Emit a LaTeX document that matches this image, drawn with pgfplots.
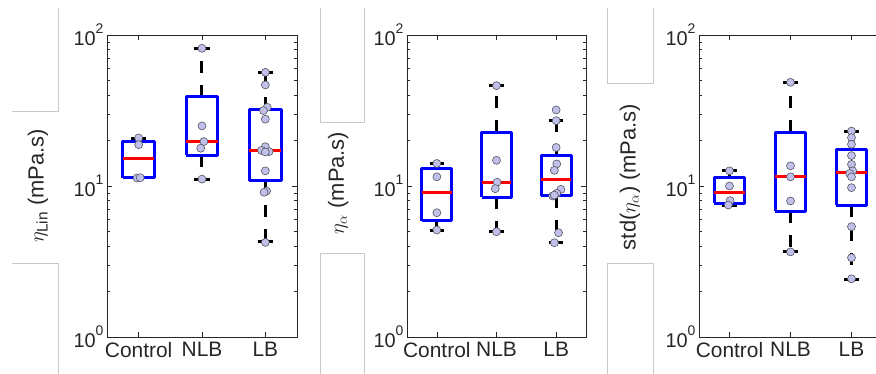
\documentclass[border=0pt]{standalone}
\usepackage{amsmath}
\usepackage{fontspec}
\setmainfont{Liberation Sans}
\usepackage{pgfplots}
\pgfplotsset{compat=1.18}
\definecolor{boxblue}{RGB}{0,0,255}
\definecolor{medred}{RGB}{255,0,0}
\definecolor{ptfill}{RGB}{192,192,235}
\definecolor{ptedge}{RGB}{85,85,95}
\definecolor{axgray}{RGB}{38,38,38}
\definecolor{artgray}{RGB}{200,200,200}
\newcommand{\pw}[1]{10\raisebox{0.62em}{\fontsize{14}{14}\selectfont #1}}

\pgfplotsset{
  every axis/.append style={
    scale only axis, anchor=south west,
    height=302bp,
    ymode=log, ymin=1, ymax=100,
    xmin=0.5, xmax=3.5,
    xtick={1,2,3}, xticklabels={Control,NLB,LB},
    ytick={1,10,100}, yticklabels={\pw{0},\pw{1},\pw{2}},
    tick align=inside, xtick pos=both, ytick pos=both,
    major tick length=5bp, minor tick length=3bp,
    axis line style={axgray, line width=0.6bp},
    tick style={axgray, line width=0.5bp},
    tick label style={text=axgray},
    xticklabel style={font=\fontsize{21}{21}\selectfont, yshift=-2bp},
    yticklabel style={font=\fontsize{20}{20}\selectfont},
    ylabel style={font=\fontsize{22}{22}\selectfont, text=axgray, anchor=center},
  },
}

% one box: #1 position, #2 lower whisker, #3 lower quartile, #4 median, #5 upper quartile, #6 upper whisker
\newcommand{\bx}[6]{%
  \pgfmathsetmacro\bL{#1-0.25}\pgfmathsetmacro\bR{#1+0.25}%
  \pgfmathsetmacro\cL{#1-0.12}\pgfmathsetmacro\cR{#1+0.12}%
  \addplot[black, line width=3bp, dash pattern=on 12bp off 12bp] coordinates {(#1,#3) (#1,#2)};
  \addplot[black, line width=3bp, dash pattern=on 12bp off 12bp] coordinates {(#1,#5) (#1,#6)};
  \addplot[black, line width=3bp] coordinates {(\cL,#2) (\cR,#2)};
  \addplot[black, line width=3bp] coordinates {(\cL,#6) (\cR,#6)};
  \addplot[boxblue, line width=3bp, line join=round] coordinates {(\bL,#3) (\bR,#3) (\bR,#5) (\bL,#5) (\bL,#3)};
  \addplot[medred, line width=3bp] coordinates {(\bL,#4) (\bR,#4)};
}

\begin{document}
\begin{tikzpicture}
\useasboundingbox (0,0) rectangle (876bp,374bp);

% ---------- Panel 1 ----------
\begin{axis}[at={(107bp,37bp)}, width=190bp,
  ylabel={$\eta_{\text{Lin}}$ (mPa.s)},
  ylabel style={at={(axis description cs:-0.363,0.5)}}]
\bx{1}{11.3}{11.35}{15.3}{19.7}{20.7}
\bx{2}{11.1}{16.0}{19.6}{39.0}{81.6}
\bx{3}{4.28}{10.8}{17.3}{32.2}{56.6}
\addplot[only marks, mark=*, mark size=4bp, mark options={fill=ptfill, draw=ptedge, line width=0.6bp}]
  coordinates {(1.0,20.8) (1.0,18.8) (0.975,11.3) (1.025,11.35)};
\addplot[only marks, mark=*, mark size=4bp, mark options={fill=ptfill, draw=ptedge, line width=0.6bp}]
  coordinates {(2.0,81.6) (2.0,25.0) (2.03,19.7) (1.98,17.8) (2.0,11.1)};
\addplot[only marks, mark=*, mark size=4bp, mark options={fill=ptfill, draw=ptedge, line width=0.6bp}]
  coordinates {(3.0,56.6) (3.0,46.7) (3.03,33.2) (2.97,31.6) (3.0,27.7)
  (3.0,18.2) (2.94,17.2) (3.06,16.9) (3.0,16.8) (3.0,12.6) (3.02,9.26) (2.98,9.09) (3.0,4.23)};
\end{axis}

% ---------- Panel 2 ----------
\begin{axis}[at={(407bp,37bp)}, width=179bp,
  ylabel={$\eta_{\alpha}$ (mPa.s)},
  ylabel style={at={(axis description cs:-0.385,0.51)}}]
\bx{1}{5.11}{5.87}{9.08}{12.97}{14.1}
\bx{2}{4.98}{8.45}{10.6}{22.7}{46.2}
\bx{3}{4.21}{8.62}{11.1}{15.9}{27.1}
\addplot[only marks, mark=*, mark size=4bp, mark options={fill=ptfill, draw=ptedge, line width=0.6bp}]
  coordinates {(1.0,14.1) (1.0,11.5) (1.0,6.65) (1.0,5.11)};
\addplot[only marks, mark=*, mark size=4bp, mark options={fill=ptfill, draw=ptedge, line width=0.6bp}]
  coordinates {(2.0,46.2) (2.0,14.8) (2.01,10.6) (1.98,9.6) (2.0,4.98)};
\addplot[only marks, mark=*, mark size=4bp, mark options={fill=ptfill, draw=ptedge, line width=0.6bp}]
  coordinates {(3.0,31.9) (3.0,27.1) (3.0,18.0) (3.01,14.0) (2.97,12.7)
  (3.08,9.5) (3.01,8.95) (2.94,8.59) (2.97,8.7) (3.04,4.9) (2.97,4.21)};
\end{axis}

% ---------- Panel 3 ----------
\begin{axis}[at={(699bp,37bp)}, width=183bp,
  ylabel={std($\eta_{\alpha}$) (mPa.s)},
  ylabel style={at={(axis description cs:-0.377,0.53)}}]
\bx{1}{7.48}{7.68}{9.03}{11.4}{12.6}
\bx{2}{3.66}{6.83}{11.5}{22.7}{48.6}
\bx{3}{2.42}{7.48}{12.2}{17.5}{23.1}
\addplot[only marks, mark=*, mark size=4bp, mark options={fill=ptfill, draw=ptedge, line width=0.6bp}]
  coordinates {(1.0,12.6) (1.0,10.0) (1.01,8.0) (0.98,7.48)};
\addplot[only marks, mark=*, mark size=4bp, mark options={fill=ptfill, draw=ptedge, line width=0.6bp}]
  coordinates {(2.0,48.6) (2.0,13.6) (2.0,11.5) (2.0,7.96) (2.0,3.66)};
\addplot[only marks, mark=*, mark size=4bp, mark options={fill=ptfill, draw=ptedge, line width=0.6bp}]
  coordinates {(3.0,23.1) (3.0,20.9) (3.0,18.9) (3.0,15.9) (3.0,13.9)
  (3.02,12.6) (2.97,12.1) (3.0,11.5) (3.0,9.75) (3.0,5.38) (3.0,3.35) (3.0,2.43)};
\end{axis}

% faint screenshot frames
\begin{scope}[artgray, line width=0.6bp]
\draw (58bp,366bp) -- (58bp,263bp) -- (12bp,263bp);
\draw (12bp,111bp) -- (58bp,111bp) -- (58bp,0bp);
\draw (320bp,366bp) -- (320bp,252bp) -- (364bp,252bp) -- (364bp,366bp);
\draw (320bp,0bp) -- (320bp,121bp) -- (364bp,121bp) -- (364bp,0bp);
\draw (607bp,366bp) -- (607bp,291bp) -- (653bp,291bp) -- (653bp,366bp);
\draw (607bp,0bp) -- (607bp,111bp) -- (653bp,111bp) -- (653bp,0bp);
\end{scope}
\end{tikzpicture}
\end{document}
